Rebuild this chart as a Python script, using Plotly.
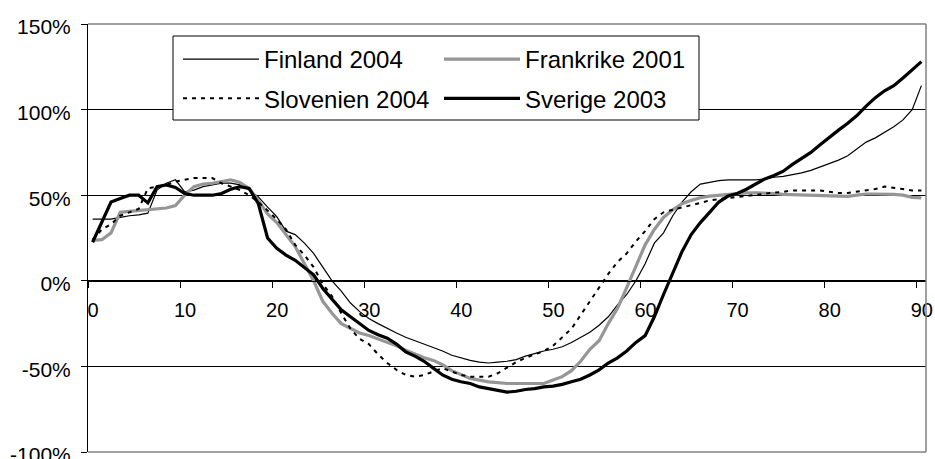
import plotly.graph_objects as go

# ---------------- data ----------------
age = list(range(91))
x_tick_values = [0, 10, 20, 30, 40, 50, 60, 70, 80, 90]
x_tick_labels = ["0", "10", "20", "30", "40", "50", "60", "70", "80", "90"]
y_tick_values = [-100, -50, 0, 50, 100, 150]
y_tick_labels = ["-100%", "-50%", "0%", "50%", "100%", "150%"]

finland_2004 = [
    36, 36, 36, 37, 38, 38.5, 39.5, 53, 57, 59,
    52, 53, 55, 56, 57, 57, 56, 53, 49, 43,
    37.5, 29, 27, 22, 16, 8, 0, -6, -13, -18,
    -22, -25, -28, -30.5, -33, -35, -37, -39, -41, -43.5,
    -45, -46.5, -47.5, -48, -47.5, -47, -46, -44, -42.5, -41,
    -40, -38.5, -36, -33, -30, -26, -21, -14, -8, 0,
    10, 22, 28, 38, 46, 52, 56.5, 57.5, 58.5, 59,
    59, 59, 59, 59.5, 60.5, 61, 62, 63, 64.5, 66.5,
    68.5, 70.5, 73, 77, 81, 83.5, 86.5, 90, 94, 100,
    114,
]
frankrike_2001 = [
    23.6, 24, 28, 40, 40.5, 41, 41.5, 42, 42.5, 44,
    50, 55, 56.5, 57, 58, 59, 57.5, 54, 47, 39,
    34, 27, 20, 10, 0, -12, -19, -25, -28, -30.5,
    -32, -34, -36, -38, -40.5, -43, -45, -46.5, -49, -52.5,
    -55, -57, -58, -59, -59.5, -60, -60, -60, -60, -60,
    -58, -56, -52.5, -47, -40, -35, -25, -16, -4, 8,
    21, 30, 37, 41.5, 45, 47, 48.5, 49.5, 50, 50.5,
    51, 51.3, 51.3, 51.3, 51, 50.5, 50.3, 50.3, 50.3, 50,
    49.5, 49.3, 49.3, 50, 50.7, 50.7, 50.7, 50.5, 50, 48.7,
    48.4,
]
slovenien_2004 = [
    24, 30, 33, 38, 40, 42, 54, 55, 56, 58,
    59, 60, 60, 60, 57, 55, 53, 50, 46, 41,
    36, 30, 21, 15, 8, -2, -9, -19, -28, -34,
    -37, -43, -48, -52, -55, -56, -55, -53, -51, -53,
    -55, -56, -56, -56, -54, -51, -47.5, -45, -43, -41,
    -38, -33, -28, -20, -12, -4, 4, 11, 16, 23,
    29, 36, 40, 41.5, 42.7, 44, 45.5, 47, 47.8, 48.4,
    49, 49.5, 50.3, 51, 51.5, 52, 52.8, 52.8, 52.8, 52.8,
    52, 51.3, 51.3, 52, 52.8, 53.6, 55, 54.5, 53.6, 52.8,
    52.8,
]
sverige_2003 = [
    22.5, 34, 46, 48, 50, 50, 45.5, 55, 56, 54.5,
    51, 50, 50, 50, 51, 53.5, 55, 54, 45, 25,
    19, 15, 12, 8, 3.5, -4.5, -11, -17, -21, -25,
    -29, -31.5, -33.5, -37, -41.5, -44, -47, -51, -55, -57.5,
    -59, -60, -62, -63, -64, -65, -64.5, -63.5, -63, -62,
    -61.5, -60.5, -59, -57.5, -55, -52, -48, -45, -41, -36,
    -32, -21, -8, 5, 17, 27, 34, 40, 46, 49.5,
    51, 53.5, 56.5, 59.5, 61.5, 64, 68, 71.5, 75, 79.5,
    84, 88, 92, 96.5, 102, 107, 111, 114, 118.5, 123,
    128,
]

# ---------------- figure ----------------
FONT = "Arial, 'Liberation Sans', sans-serif"
GRAY = "#969696"

fig = go.Figure()
fig.add_trace(go.Scatter(x=age, y=finland_2004, name="Finland 2004", mode="lines",
                         line=dict(color="black", width=1.2),
                         legend="legend", legendgroup="fi"))
fig.add_trace(go.Scatter(x=age, y=frankrike_2001, name="Frankrike 2001", mode="lines",
                         line=dict(color=GRAY, width=3.2),
                         legend="legend2", legendgroup="fr"))
fig.add_trace(go.Scatter(x=age, y=slovenien_2004, name="Slovenien 2004", mode="lines",
                         line=dict(color="black", width=2, dash="4px,5px"),
                         legend="legend", legendgroup="si"))
fig.add_trace(go.Scatter(x=age, y=sverige_2003, name="Sverige 2003", mode="lines",
                         line=dict(color="black", width=3.2),
                         legend="legend2", legendgroup="se"))

# plot frame (grey top/right/bottom) and legend box
frame = dict(type="line", xref="paper", yref="paper", line=dict(color="#808080", width=1.5), layer="above")
shapes = [
    dict(frame, x0=0, x1=1, y0=1, y1=1),
    dict(frame, x0=1, x1=1, y0=0, y1=1),
    dict(frame, x0=0, x1=1, y0=0, y1=0),
    dict(type="rect", xref="paper", yref="paper",
         x0=(173 - 88) / 838, x1=(699 - 88) / 838,
         y0=(452 - 120) / 428, y1=(452 - 36) / 428,
         line=dict(color="black", width=1), fillcolor="white", layer="above"),
]

fig.update_layout(
    template="none",
    width=935, height=459,
    margin=dict(l=88, r=9, t=24, b=7, autoexpand=False),
    paper_bgcolor="white", plot_bgcolor="white",
    font=dict(family=FONT, size=20, color="black"),
    shapes=shapes,
    xaxis=dict(
        automargin=False,
        range=[-0.5, 90.5],
        tickmode="array",
        tickvals=[v - 0.5 for v in x_tick_values],
        ticktext=x_tick_labels,
        ticklabelshift=5,
        ticks="outside", ticklen=6, tickcolor="black", tickwidth=1,
        ticklabelstandoff=5,
        ticklabeloverflow="allow",
        showgrid=False, zeroline=False,
        showline=True, linecolor="black", linewidth=1,
        anchor="free", position=0.4,
        tickfont=dict(size=20, family=FONT, color="black"),
    ),
    yaxis=dict(
        automargin=False,
        range=[-100, 150],
        tickmode="array", tickvals=y_tick_values, ticktext=y_tick_labels,
        ticks="outside", ticklen=6, tickcolor="black", tickwidth=1,
        ticklabelstandoff=6,
        ticklabelshift=3,
        ticklabeloverflow="allow",
        showgrid=True, gridcolor="black", gridwidth=1,
        zeroline=False,
        showline=True, linecolor="black", linewidth=1,
        tickfont=dict(size=21, family=FONT, color="black"),
    ),
    legend=dict(
        x=(178 - 88) / 838, y=(452 - 37) / 428, xanchor="left", yanchor="top",
        bgcolor="rgba(0,0,0,0)", borderwidth=0,
        font=dict(size=24, family=FONT, color="black"), itemwidth=76, tracegroupgap=5,
        orientation="v",
    ),
    legend2=dict(
        x=(439 - 88) / 838, y=(452 - 37) / 428, xanchor="left", yanchor="top",
        bgcolor="rgba(0,0,0,0)", borderwidth=0,
        font=dict(size=24, family=FONT, color="black"), itemwidth=76, tracegroupgap=5,
        orientation="v",
    ),
    showlegend=True,
)

fig.write_html("out.html",
               config={"displayModeBar": False},
               post_script="document.body.style.margin='0';document.body.style.overflow='hidden';")
